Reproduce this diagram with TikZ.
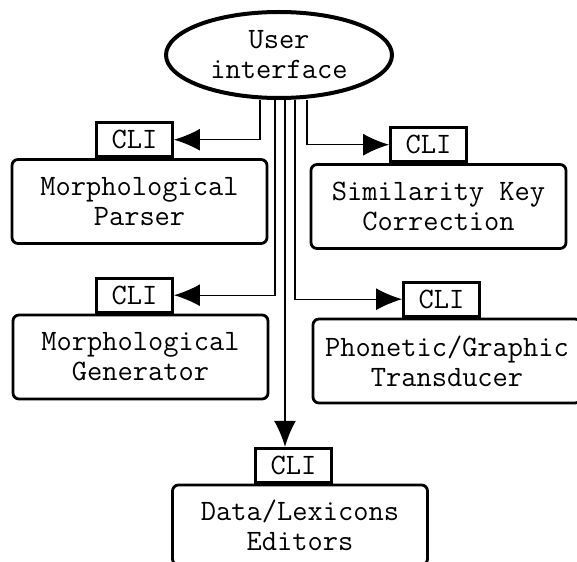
\documentclass[tikz,border=0pt]{standalone}
\usepackage{fontspec}
\usetikzlibrary{shapes.geometric, arrows.meta, positioning}

\begin{document}
\begin{tikzpicture}[
  x=0.5pt, y=-0.5pt,
  every node/.style={font=\ttfamily\fontsize{14.8}{15}\selectfont},
  iface/.style={ellipse, draw, line width=2pt, minimum width=113pt, minimum height=43pt, align=center, inner sep=0pt},
  module/.style={rectangle, draw, line width=1.4pt, rounded corners=3pt, minimum width=127.5pt, minimum height=42pt, align=center, inner sep=0pt},
  cli/.style={rectangle, draw, line width=1.4pt, minimum width=38pt, minimum height=17pt, inner sep=0pt},
  arrow/.style={-{Latex[length=13pt,width=11pt]}, line width=0.7pt}
]
\useasboundingbox (0,0) rectangle (577,561);

\node[iface] (ui) at (279,55) {User\\interface};

\node[module] (parser) at (139.5,201.5) {Morphological\\Parser};
\node[cli, above=0pt of parser, xshift=-2.5pt] (cli1) {CLI};

\node[module] (simkey) at (438.5,206.5) {Similarity Key\\Correction};
\node[cli, above=0pt of simkey, xshift=-5pt] (cli2) {CLI};

\node[module] (generator) at (140.5,357) {Morphological\\Generator};
\node[cli, above=0pt of generator, xshift=-3pt] (cli3) {CLI};

\node[module, minimum width=134pt] (transducer) at (447,361) {Phonetic/Graphic\\Transducer};
\node[cli, above=0pt of transducer, xshift=-2.75pt] (cli4) {CLI};

\node[module, minimum height=40pt] (editors) at (300,525) {Data/Lexicons\\Editors};
\node[cli, above=0pt of editors, xshift=-3.25pt] (cli5) {CLI};

\draw[arrow] ([xshift=-9.5pt]ui.south) |- (cli1);
\draw[arrow] ([xshift=14pt]ui.south) |- (cli2);
\draw[arrow] ([xshift=-2pt]ui.south) |- (cli3);
\draw[arrow] ([xshift=8pt]ui.south) |- (cli4);
\draw[arrow] ([xshift=3pt]ui.south) -- ([xshift=3pt]ui.south |- cli5.north);

\end{tikzpicture}
\end{document}
